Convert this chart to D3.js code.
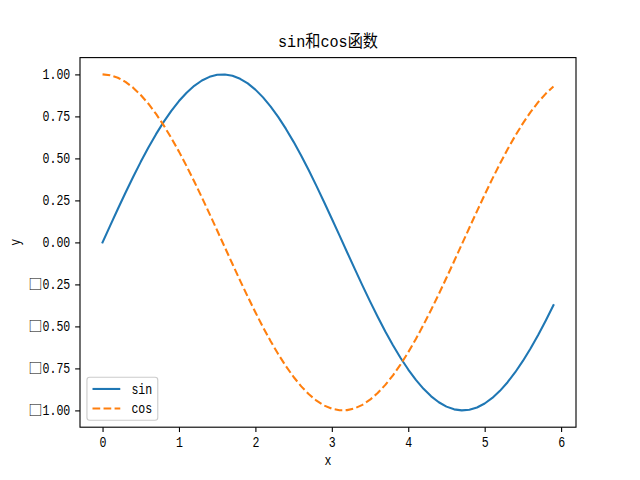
<!DOCTYPE html>
<html><head><meta charset="utf-8">
<script src="https://cdn.jsdelivr.net/npm/d3@7"></script>
<style>body{margin:0;background:#fff}svg{display:block}text{font-family:"Liberation Mono","Noto Sans CJK SC",monospace;fill:#000}</style>
</head><body>
<script>
const xs = [0,0.1,0.2,0.3,0.4,0.5,0.6,0.7,0.8,0.9,1.0,1.1,1.2,1.3,1.4,1.5,1.6,1.7,1.8,1.9,2.0,2.1,2.2,2.3,2.4,2.5,2.6,2.7,2.8,2.9,3.0,3.1,3.2,3.3,3.4,3.5,3.6,3.7,3.8,3.9,4.0,4.1,4.2,4.3,4.4,4.5,4.6,4.7,4.8,4.9,5.0,5.1,5.2,5.3,5.4,5.5,5.6,5.7,5.8,5.9];
const sinVals = [0,0.0998,0.1987,0.2955,0.3894,0.4794,0.5646,0.6442,0.7174,0.7833,0.8415,0.8912,0.9320,0.9636,0.9854,0.9975,0.9996,0.9917,0.9738,0.9463,0.9093,0.8632,0.8085,0.7457,0.6755,0.5985,0.5155,0.4274,0.3350,0.2392,0.1411,0.0416,-0.0584,-0.1577,-0.2555,-0.3508,-0.4425,-0.5298,-0.6119,-0.6878,-0.7568,-0.8183,-0.8716,-0.9162,-0.9516,-0.9775,-0.9937,-0.9999,-0.9962,-0.9825,-0.9589,-0.9258,-0.8835,-0.8323,-0.7728,-0.7055,-0.6313,-0.5507,-0.4646,-0.3739];
const cosVals = [1,0.9950,0.9801,0.9553,0.9211,0.8776,0.8253,0.7648,0.6967,0.6216,0.5403,0.4536,0.3624,0.2675,0.1700,0.0707,-0.0292,-0.1288,-0.2272,-0.3233,-0.4161,-0.5048,-0.5885,-0.6663,-0.7374,-0.8011,-0.8569,-0.9041,-0.9422,-0.9710,-0.9900,-0.9991,-0.9983,-0.9875,-0.9668,-0.9365,-0.8968,-0.8481,-0.7910,-0.7259,-0.6536,-0.5748,-0.4903,-0.4008,-0.3073,-0.2108,-0.1122,-0.0124,0.0875,0.1865,0.2837,0.3780,0.4685,0.5544,0.6347,0.7087,0.7756,0.8347,0.8855,0.9275];
const xTicks = [0,1,2,3,4,5,6];
const yTicks = [-1,-0.75,-0.5,-0.25,0,0.25,0.5,0.75,1];
const yTickLabels = ["\u25A11.00","\u25A10.75","\u25A10.50","\u25A10.25","0.00","0.25","0.50","0.75","1.00"];
const seriesNames = ["sin","cos"];
const title = "sin和cos函数";

const W=640,H=480, L=80,R=576,T=57.6,B=427.2;
const PT=100/72;
const fs=10*PT; // 13.9px
const svg=d3.select("body").append("svg").attr("width",W).attr("height",H);
const x=d3.scaleLinear().domain([-0.295,6.195]).range([L,R]);
const y=d3.scaleLinear().domain([-1.09999,1.09999]).range([B,T]);

// width of a string in a SimHei-like font: half-width latin, full-width CJK / box
function w(s,size){let n=0;for(const c of s){n+= c.charCodeAt(0)>0x2000?1:0.5;}return n*size;}
function setText(sel,s,size){
  sel.text(null).attr("font-size",size);
  let rest=s;
  if(s[0]==="\u25A1"){
    sel.append("tspan").attr("font-family","'Noto Sans CJK SC',sans-serif").attr("font-size",size).text("\u25A1");
    rest=s.slice(1);
  }
  sel.append("tspan").attr("textLength",w(rest,size)).attr("lengthAdjust","spacingAndGlyphs").text(rest);
}

const tl=3.5*PT;
const xAxis=svg.append("g").attr("transform",`translate(0,${B})`)
  .call(d3.axisBottom(x).tickValues(xTicks).tickSize(tl).tickPadding(tl).tickFormat(d3.format("d")));
const yAxis=svg.append("g").attr("transform",`translate(${L},0)`)
  .call(d3.axisLeft(y).tickValues(yTicks).tickSize(tl).tickPadding(tl).tickFormat((d,i)=>yTickLabels[i]));
[xAxis,yAxis].forEach(g=>{g.select(".domain").remove();g.selectAll(".tick line").attr("stroke","#000").attr("stroke-width",0.8*PT);
  g.attr("font-family",null).attr("font-size",null);
  g.selectAll(".tick text").attr("fill","#000").each(function(){const s=d3.select(this);setText(s,s.text(),fs);});});

const line=d3.line().x((d,i)=>x(xs[i])).y(d=>y(d));
const lw=1.5*PT, dash=`${3.7*1.5*PT},${1.6*1.5*PT}`;
svg.append("path").datum(sinVals).attr("d",line).attr("fill","none").attr("stroke","#1f77b4").attr("stroke-width",lw).attr("stroke-linejoin","round").attr("stroke-linecap","square");
svg.append("path").datum(cosVals).attr("d",line).attr("fill","none").attr("stroke","#ff7f0e").attr("stroke-width",lw).attr("stroke-dasharray",dash).attr("stroke-linejoin","round");

svg.append("rect").attr("x",L).attr("y",T).attr("width",R-L).attr("height",B-T).attr("fill","none").attr("stroke","#000").attr("stroke-width",0.8*PT);

setText(svg.append("text").attr("x",(L+R)/2).attr("y",T-10.5).attr("text-anchor","middle"),title,12*PT);
setText(svg.append("text").attr("x",(L+R)/2).attr("y",465).attr("text-anchor","middle"),"x",fs);
setText(svg.append("text").attr("transform",`translate(20,${(T+B)/2}) rotate(-90)`).attr("text-anchor","middle"),"y",fs);

// legend
const em=fs;
const lx=L+0.5*em, lb=B-0.5*em;
const lwid=0.4*em+2*em+0.8*em+w("sin",fs)+0.4*em;
const lh=43;
const lg=svg.append("g");
lg.append("rect").attr("x",lx).attr("y",lb-lh).attr("width",lwid).attr("height",lh).attr("rx",0.2*em).attr("fill","#fff").attr("fill-opacity",0.8).attr("stroke","#cccccc").attr("stroke-width",0.8*PT);
const colors=["#1f77b4","#ff7f0e"], dashes=[null,dash];
seriesNames.forEach((n,i)=>{
  const yy=lb-lh+11.7+i*19.5;
  lg.append("line").attr("x1",lx+0.4*em).attr("x2",lx+2.4*em).attr("y1",yy).attr("y2",yy).attr("stroke",colors[i]).attr("stroke-width",lw).attr("stroke-dasharray",dashes[i]);
  setText(lg.append("text").attr("x",lx+3.2*em).attr("y",yy+5),n,fs);
});
</script>
</body></html>
